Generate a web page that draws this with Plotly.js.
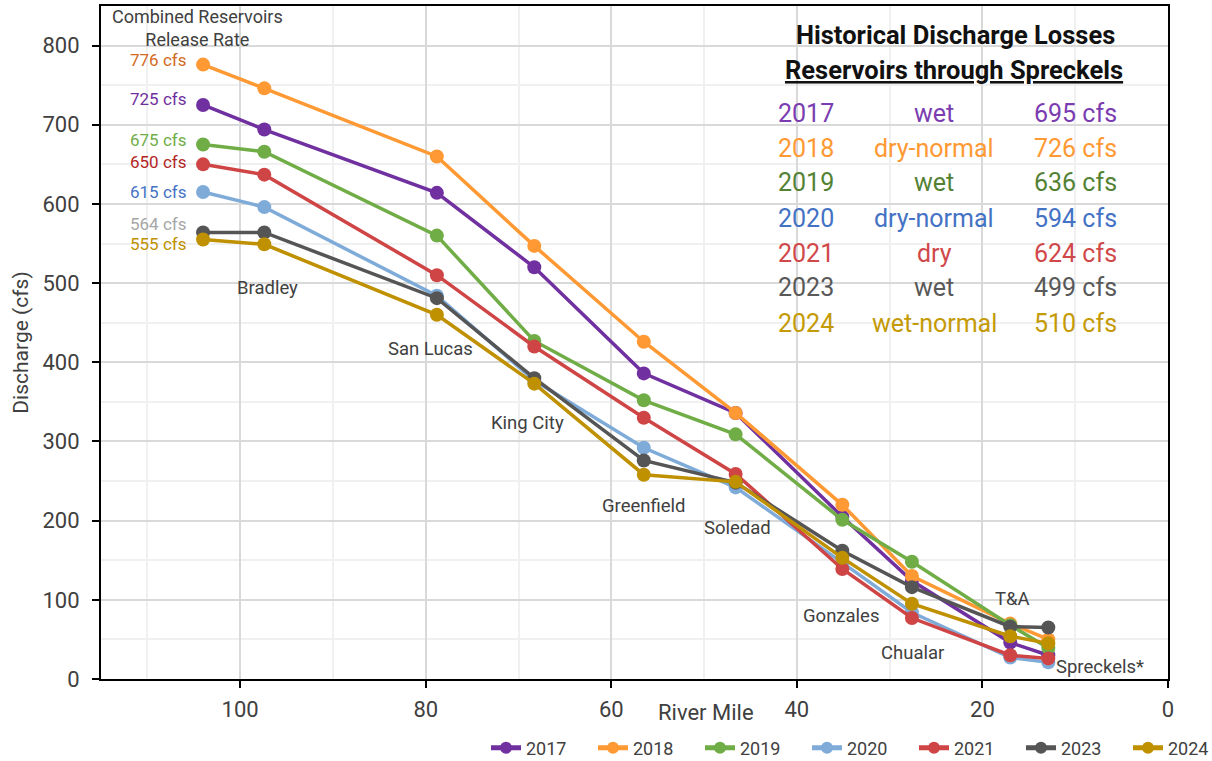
<!DOCTYPE html>
<html>
<head>
<meta charset="utf-8">
<script src="https://cdn.plot.ly/plotly-3.0.1.min.js"></script>
<style>html,body{margin:0;padding:0;background:#fff;}#chart{width:1212px;height:761px;}</style>
</head>
<body>
<div id="chart"></div>
<script>
// ---- data ----
const riverMile = [104, 97.4, 78.8, 68.3, 56.5, 46.6, 35.1, 27.6, 17.0, 12.9];
const stationNames = ['Bradley', 'San Lucas', 'King City', 'Greenfield', 'Soledad', 'Gonzales', 'Chualar', 'T&A', 'Spreckels*'];
const years = ['2017', '2018', '2019', '2020', '2021', '2023', '2024'];
const q2017 = [725, 694, 614, 520, 386, 336, 205, 124, 46, 30];
const q2018 = [776, 746, 660, 547, 426, 336, 220, 130, 70, 50];
const q2019 = [675, 666, 560, 427, 352, 309, 201, 148, 68, 39];
const q2020 = [615, 596, 484, 377, 292, 242, 147, 84, 27, 21];
const q2021 = [650, 637, 510, 420, 330, 259, 139, 77, 30, 26];
const q2023 = [564, 564, 481, 380, 276, 248, 162, 116, 66, 65];
const q2024 = [555, 549, 460, 373, 258, 249, 153, 95, 54, 45];
const yearTypes = ['wet', 'dry-normal', 'wet', 'dry-normal', 'dry', 'wet', 'wet-normal'];
const losses = [695, 726, 636, 594, 624, 499, 510];

// ---- styles ----
const series = [q2017, q2018, q2019, q2020, q2021, q2023, q2024];
const lineColors = ['#7030A0', '#FF9933', '#70AD47', '#7FABD9', '#CF4545', '#555555', '#BF9000'];
const tableColors = ['#7A3CB0', '#FF9933', '#548235', '#4472C4', '#D0484A', '#595959', '#C49A06'];
const releaseColors = ['#7030A0', '#D2691E', '#70AD47', '#4472C4', '#B22525', '#A6A6A6', '#BF9000'];
const releaseYShift = [6, 5, 5, 0, 2, 8, -4];
// station label positions [mile, cfs]
const stationLabelPos = [[97.1, 494], [79.5, 417], [69.0, 323], [56.5, 219], [46.4, 191], [35.2, 79], [27.5, 33], [16.8, 101], [7.3, 15.5]];

const font = 'Roboto, "DejaVu Sans", sans-serif';
const txt = '#404040';

const traces = years.map((yr, i) => ({
  type: 'scatter', mode: 'lines+markers', name: yr,
  x: riverMile, y: series[i],
  line: {color: lineColors[i], width: 3.5},
  marker: {color: lineColors[i], size: 14}
}));

const annotations = [];
years.forEach((yr, i) => {
  annotations.push({
    xref: 'x', yref: 'y', x: riverMile[0], y: series[i][0],
    text: series[i][0] + ' cfs', showarrow: false,
    xanchor: 'right', yanchor: 'middle', xshift: -16, yshift: releaseYShift[i],
    borderpad: 0,
    font: {family: font, size: 17, color: releaseColors[i]}
  });
});
annotations.push({
  xref: 'x', yref: 'y', x: 104.6, y: 822, text: 'Combined Reservoirs<br>Release Rate',
  showarrow: false, xanchor: 'center', yanchor: 'middle',
  font: {family: font, size: 18, color: txt}
});
stationNames.forEach((s, i) => {
  annotations.push({
    xref: 'x', yref: 'y', x: stationLabelPos[i][0], y: stationLabelPos[i][1],
    text: s, showarrow: false, xanchor: 'center', yanchor: 'middle',
    font: {family: font, size: 18.5, color: txt}
  });
});
annotations.push({
  xref: 'paper', yref: 'paper', x: (706 - 101) / 1067, y: (679 - 712) / 673,
  text: 'River Mile', showarrow: false, xanchor: 'center', yanchor: 'middle',
  font: {family: font, size: 22, color: txt}
});
const px = v => (v - 101) / 1067;
const py = v => (679 - v) / 673;
annotations.push({
  xref: 'paper', yref: 'paper', x: px(955), y: py(35), text: '<b>Historical Discharge Losses</b>',
  showarrow: false, xanchor: 'center', yanchor: 'middle', font: {family: font, size: 25.5, color: '#111'}
});
annotations.push({
  xref: 'paper', yref: 'paper', x: px(954), y: py(70), text: '<b><u>Reservoirs through Spreckels</u></b>',
  showarrow: false, xanchor: 'center', yanchor: 'middle', font: {family: font, size: 25.5, color: '#111'}
});
years.forEach((yr, i) => {
  const yy = py(113 + 35 * i);
  const f = {family: font, size: 25, color: tableColors[i]};
  annotations.push({xref: 'paper', yref: 'paper', x: px(776), y: yy, text: yr, showarrow: false, xanchor: 'left', yanchor: 'middle', font: f});
  annotations.push({xref: 'paper', yref: 'paper', x: px(934), y: yy, text: yearTypes[i], showarrow: false, xanchor: 'center', yanchor: 'middle', font: f});
  annotations.push({xref: 'paper', yref: 'paper', x: px(1119), y: yy, text: losses[i] + ' cfs', showarrow: false, xanchor: 'right', yanchor: 'middle', font: f});
});

const axisCommon = {
  showline: true, linecolor: '#000', linewidth: 2, mirror: true,
  ticks: 'outside', ticklen: 7, tickwidth: 2, tickcolor: '#000',
  showgrid: true, gridcolor: '#d9d9d9', gridwidth: 2,
  zeroline: false, automargin: false,
  tickfont: {family: font, size: 22, color: txt}
};

const layout = {
  width: 1212, height: 761,
  margin: {l: 101, r: 44, t: 6, b: 82, autoexpand: false},
  paper_bgcolor: '#fff', plot_bgcolor: '#fff',
  font: {family: font, color: txt},
  xaxis: Object.assign({}, axisCommon, {
    range: [115, 0], tick0: 0, dtick: 20, ticklabelstandoff: 3,
    minor: {dtick: 10, showgrid: true, gridcolor: '#f0f0f0', gridwidth: 2, ticks: ''}
  }),
  yaxis: Object.assign({}, axisCommon, {
    range: [0, 850], tick0: 0, dtick: 100, ticklabelstandoff: 8,
    minor: {dtick: 50, showgrid: true, gridcolor: '#f0f0f0', gridwidth: 2, ticks: ''},
    title: {text: 'Discharge (cfs)', font: {family: font, size: 21, color: txt}, standoff: 8}
  }),
  showlegend: true,
  legend: {
    orientation: 'h', x: px(486), xanchor: 'left', y: py(748), yanchor: 'middle',
    font: {family: font, size: 18, color: txt}, bgcolor: 'rgba(0,0,0,0)',
    entrywidth: 62, entrywidthmode: 'pixels', itemsizing: 'constant'
  },
  shapes: [{
    type: 'rect', xref: 'paper', yref: 'paper', layer: 'between',
    x0: px(745), x1: px(1165), y0: py(372), y1: py(8),
    fillcolor: '#fff', line: {width: 0}
  }],
  annotations: annotations
};

Plotly.newPlot('chart', traces, layout, {displayModeBar: false, staticPlot: true});
</script>
</body>
</html>
